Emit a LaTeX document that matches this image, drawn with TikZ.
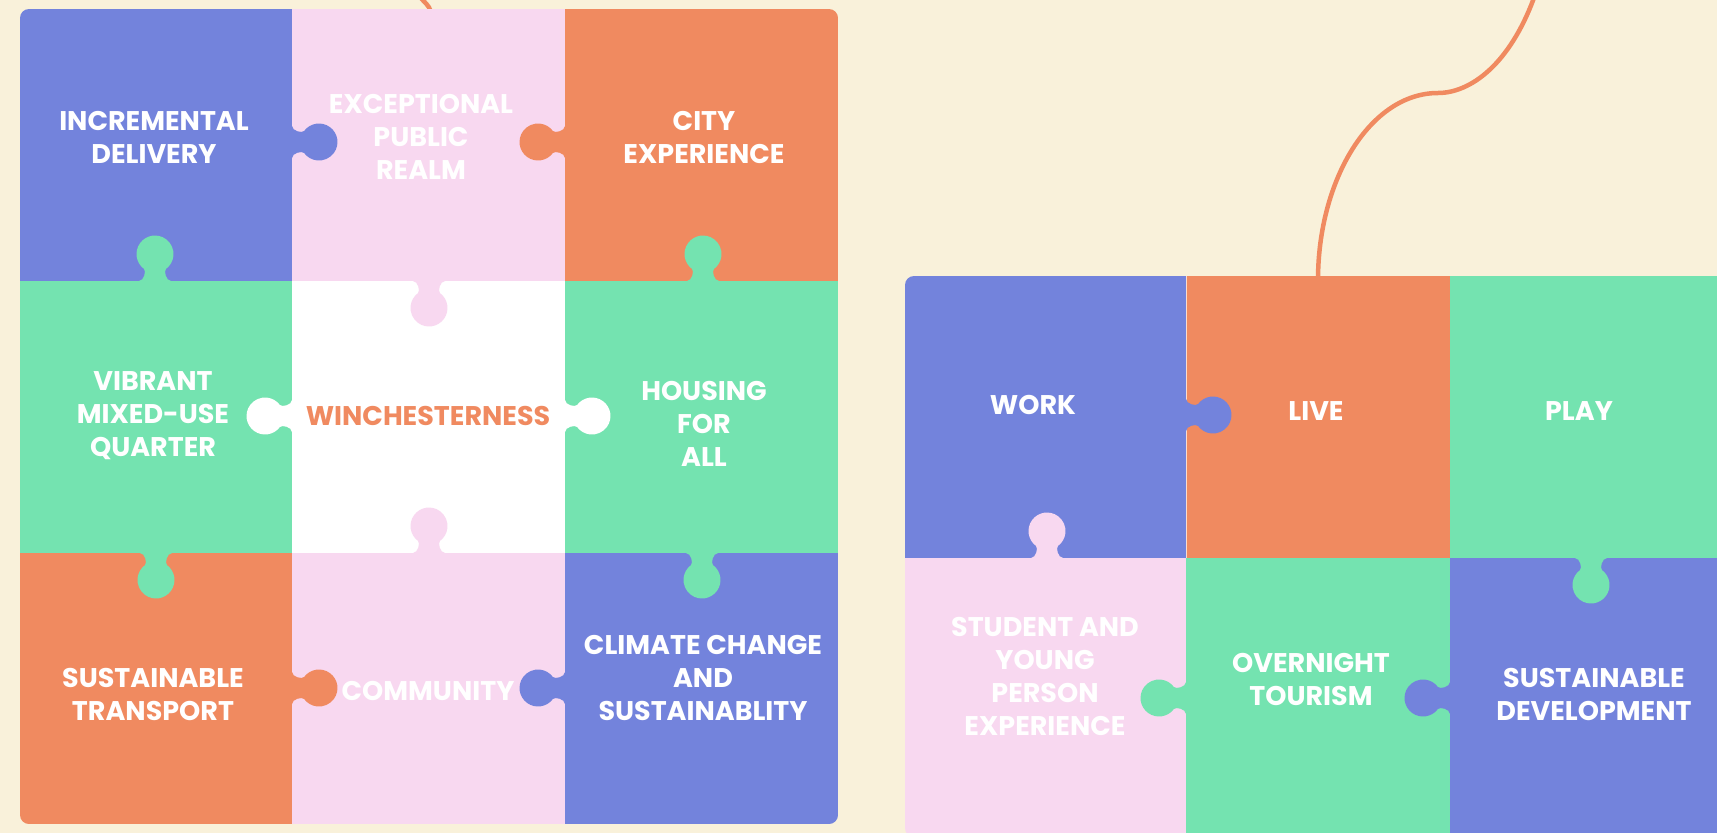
\documentclass[tikz,border=0pt]{standalone}
\usepackage{fontspec}
\setmainfont{Poppins}
\definecolor{cream}{RGB}{249,241,218}
\definecolor{pblue}{RGB}{115,131,220}
\definecolor{ppink}{RGB}{248,216,240}
\definecolor{porange}{RGB}{240,138,96}
\definecolor{pgreen}{RGB}{116,227,176}
% puzzle knob: base point, direction, colour
\newcommand{\knob}[4]{%
  \fill[#4,shift={(#1,#2)},rotate=#3] (0,-16) .. controls (0,-11) and (10.3,-8.6) .. (12.1,-11)
    arc[start angle=-143.5,end angle=143.5,radius=18.5] .. controls (10.3,8.6) and (0,11) .. (0,16) -- cycle;}

\begin{document}
\begin{tikzpicture}[x=1pt,y=-1pt,
    txt/.style={text=white,inner sep=0pt,align=center,font=\bfseries\fontsize{27}{33}\selectfont},
    thread/.style={draw=porange,line width=4.5pt,line cap=round}]
  \useasboundingbox (0,0) rectangle (1717,833);
  \fill[cream] (0,0) rectangle (1717,833);
  \draw[thread] (420,-3) .. controls (424,2) and (429,5) .. (431,12);
  \draw[thread] (1535,-5) .. controls (1510,65) and (1470,93) .. (1438,93)
    .. controls (1370,93) and (1318,180) .. (1318,280);
  % left grid
  \begin{scope}
    \clip[rounded corners=9pt] (20,9) rectangle (838,824);
    \fill[pblue] (20,9) rectangle (292,281);
    \fill[ppink] (292,9) rectangle (565,281);
    \fill[porange] (565,9) rectangle (838,281);
    \fill[pgreen] (20,281) rectangle (292,553);
    \fill[white] (292,281) rectangle (565,553);
    \fill[pgreen] (565,281) rectangle (838,553);
    \fill[porange] (20,553) rectangle (292,824);
    \fill[ppink] (292,553) rectangle (565,824);
    \fill[pblue] (565,553) rectangle (838,824);
  \end{scope}
  \knob{292}{142}{0}{pblue}
  \knob{565}{142}{180}{porange}
  \knob{155}{281}{90}{pgreen}
  \knob{703}{281}{90}{pgreen}
  \knob{429}{281}{-90}{ppink}
  \knob{292}{416}{180}{white}
  \knob{565}{416}{0}{white}
  \knob{156}{553}{-90}{pgreen}
  \knob{429}{553}{90}{ppink}
  \knob{702}{553}{-90}{pgreen}
  \knob{292}{688}{0}{porange}
  \knob{565}{688}{180}{pblue}
  % right grid
  \begin{scope}
    \clip[rounded corners=9pt] (905,276) rectangle (1740,837);
    \fill[pblue] (905,276) rectangle (1186,558);
    \fill[porange] (1186,276) rectangle (1450,558);
    \fill[pgreen] (1450,276) rectangle (1740,558);
    \fill[ppink] (905,558) rectangle (1186,837);
    \fill[pgreen] (1186,558) rectangle (1450,837);
    \fill[pblue] (1450,558) rectangle (1740,837);
  \end{scope}
  \draw[white,line width=0.6pt,opacity=0.7] (1186,276) -- (1186,558);
  \knob{1186}{415}{0}{pblue}
  \knob{1047}{558}{90}{ppink}
  \knob{1591}{558}{-90}{pgreen}
  \knob{1186}{698}{180}{pgreen}
  \knob{1450}{698}{180}{pblue}
  % labels
  \node[txt] (inc) at (154,137) {INCREMENTAL\\DELIVERY};
  \node[txt] (epr) at (421,137) {EXCEPTIONAL\\PUBLIC\\REALM};
  \node[txt] (city) at (704,137) {CITY\\EXPERIENCE};
  \node[txt] (vib) at (153,416) {VIBRANT\\MIXED-USE\\QUARTER};
  \node[txt,text=porange] (win) at (428,416) {WINCHESTERNESS};
  \node[txt] (house) at (704,424) {HOUSING\\FOR\\ALL};
  \node[txt] (trans) at (153,694) {SUSTAINABLE\\TRANSPORT};
  \node[txt] (com) at (428,691) {COMMUNITY};
  \node[txt] (clim) at (703,678) {CLIMATE CHANGE\\AND\\SUSTAINABLITY};
  \node[txt] (work) at (1033,405) {WORK};
  \node[txt] (live) at (1316,411) {LIVE};
  \node[txt] (play) at (1579,411) {PLAY};
  \node[txt] (stud) at (1045,676) {STUDENT AND\\YOUNG\\PERSON\\EXPERIENCE};
  \node[txt] (over) at (1311,679) {OVERNIGHT\\TOURISM};
  \node[txt] (sdev) at (1594,694) {SUSTAINABLE\\DEVELOPMENT};
\end{tikzpicture}
\end{document}
